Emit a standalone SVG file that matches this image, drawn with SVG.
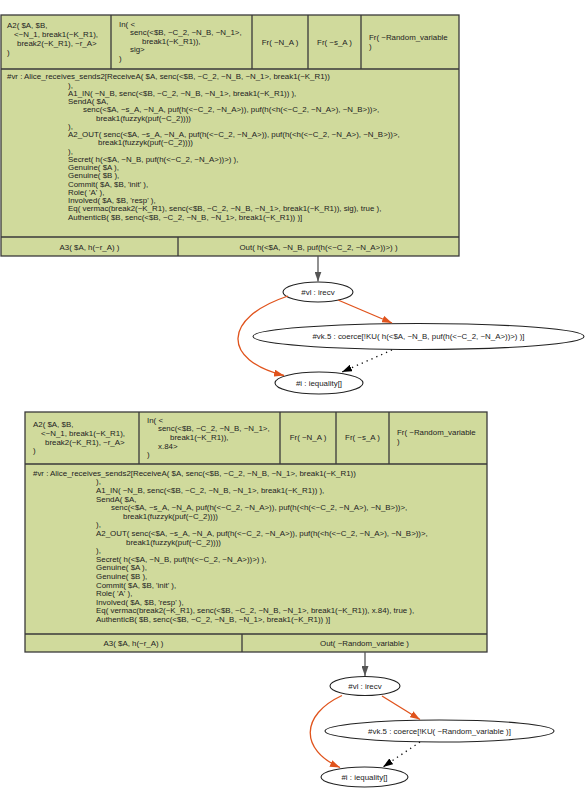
<svg xmlns="http://www.w3.org/2000/svg" width="585" height="793" viewBox="0 0 585 793">
<defs>
<style>
text{font-family:"Liberation Sans",Arial,sans-serif;font-size:7.9px;fill:#222}
.c{text-anchor:middle}
.box{fill:#d0da9c;stroke:#3a3a3a;stroke-width:1.3}
.sep{stroke:#3a3a3a;stroke-width:1.3;fill:none}
.ell{fill:#ffffff;stroke:#222;stroke-width:1.1}
.eg{stroke:#555;stroke-width:1.3;fill:none}
.eo{stroke:#e0531c;stroke-width:1.3;fill:none}
.ed{stroke:#111;stroke-width:1.3;fill:none;stroke-dasharray:1.3,4}
</style>
<marker id="ag" viewBox="0 0 10 7" refX="10" refY="3.5" markerWidth="10" markerHeight="7" markerUnits="userSpaceOnUse" orient="auto"><path d="M0,0L10,3.5L0,7z" fill="#555"/></marker>
<marker id="ao" viewBox="0 0 10 7" refX="10" refY="3.5" markerWidth="10" markerHeight="7" markerUnits="userSpaceOnUse" orient="auto"><path d="M0,0L10,3.5L0,7z" fill="#e0531c"/></marker>
<marker id="ab" viewBox="0 0 10 7" refX="10" refY="3.5" markerWidth="10" markerHeight="7" markerUnits="userSpaceOnUse" orient="auto"><path d="M0,0L10,3.5L0,7z" fill="#000"/></marker>
</defs>
<rect width="585" height="793" fill="#ffffff"/>

<g id="rule1">
<rect class="box" x="1" y="15" width="458" height="241"/>
<path class="sep" d="M1,69H459M1,237H459M111,15V69M252,15V69M308,15V69M361,15V69M178,237V256"/>
<text x="7" y="27.5">A2( $A, $B,</text>
<text x="14" y="36.8">&lt;~N_1, break1(~K_R1),</text>
<text x="17" y="46">break2(~K_R1), ~r_A&gt;</text>
<text x="7" y="55">)</text>
<text x="119" y="26.5">In( &lt;</text>
<text x="130" y="35.1">senc(&lt;$B, ~C_2, ~N_B, ~N_1&gt;,</text>
<text x="142" y="43.7">break1(~K_R1)),</text>
<text x="130" y="52.3">sig&gt;</text>
<text x="119" y="60.9">)</text>
<text class="c" x="280" y="44.7">Fr( ~N_A )</text>
<text class="c" x="334.5" y="44.7">Fr( ~s_A )</text>
<text x="369" y="39.7">Fr( ~Random_variable</text>
<text x="369" y="48.7">)</text>
<text x="7" y="79.4">#vr : Alice_receives_sends2[ReceiveA( $A, senc(&lt;$B, ~C_2, ~N_B, ~N_1&gt;, break1(~K_R1))</text>
<text x="68" y="87.6">),</text>
<text x="68" y="95.9">A1_IN( ~N_B, senc(&lt;$B, ~C_2, ~N_B, ~N_1&gt;, break1(~K_R1)) ),</text>
<text x="68" y="104.1">SendA( $A,</text>
<text x="83" y="112.4">senc(&lt;$A, ~s_A, ~N_A, puf(h(&lt;~C_2, ~N_A&gt;)), puf(h(&lt;h(&lt;~C_2, ~N_A&gt;), ~N_B&gt;))&gt;,</text>
<text x="96" y="120.6">break1(fuzzyk(puf(~C_2))))</text>
<text x="68" y="128.8">),</text>
<text x="68" y="137.1">A2_OUT( senc(&lt;$A, ~s_A, ~N_A, puf(h(&lt;~C_2, ~N_A&gt;)), puf(h(&lt;h(&lt;~C_2, ~N_A&gt;), ~N_B&gt;))&gt;,</text>
<text x="98" y="145.3">break1(fuzzyk(puf(~C_2))))</text>
<text x="68" y="153.6">),</text>
<text x="68" y="161.8">Secret( h(&lt;$A, ~N_B, puf(h(&lt;~C_2, ~N_A&gt;))&gt;) ),</text>
<text x="68" y="170">Genuine( $A ),</text>
<text x="68" y="178.3">Genuine( $B ),</text>
<text x="68" y="186.5">Commit( $A, $B, 'init' ),</text>
<text x="68" y="194.8">Role( 'A' ),</text>
<text x="68" y="203">Involved( $A, $B, 'resp' ),</text>
<text x="68" y="211.2">Eq( vermac(break2(~K_R1), senc(&lt;$B, ~C_2, ~N_B, ~N_1&gt;, break1(~K_R1)), sig), true ),</text>
<text x="68" y="219.5">AuthenticB( $B, senc(&lt;$B, ~C_2, ~N_B, ~N_1&gt;, break1(~K_R1)) )]</text>
<text class="c" x="89.5" y="249.5">A3( $A, h(~r_A) )</text>
<text class="c" x="318.5" y="249.5">Out( h(&lt;$A, ~N_B, puf(h(&lt;~C_2, ~N_A&gt;))&gt;) )</text>
</g>

<g id="irecv1">
<ellipse class="ell" cx="318" cy="292" rx="35" ry="10"/>
<text class="c" x="318" y="294.7">#vl : irecv</text>
</g>
<g id="coerce1">
<ellipse class="ell" cx="418.5" cy="336.5" rx="165.5" ry="13"/>
<text class="c" x="418.5" y="339.2">#vk.5 : coerce[!KU( h(&lt;$A, ~N_B, puf(h(&lt;~C_2, ~N_A&gt;))&gt;) )]</text>
</g>
<g id="equality1">
<ellipse class="ell" cx="319" cy="383" rx="44" ry="11"/>
<text class="c" x="319" y="385.7">#i : iequality[]</text>
</g>

<g id="rule2">
<rect class="box" x="25" y="412" width="462" height="240"/>
<path class="sep" d="M25,464H487M25,634H487M139,412V464M280,412V464M336,412V464M389,412V464M242,634V652"/>
<text x="33" y="426.7">A2( $A, $B,</text>
<text x="41" y="435.7">&lt;~N_1, break1(~K_R1),</text>
<text x="45" y="444.5">break2(~K_R1), ~r_A&gt;</text>
<text x="33" y="453">)</text>
<text x="147" y="422.7">In( &lt;</text>
<text x="158" y="431.3">senc(&lt;$B, ~C_2, ~N_B, ~N_1&gt;,</text>
<text x="170" y="440">break1(~K_R1)),</text>
<text x="158" y="448.7">x.84&gt;</text>
<text x="147" y="457.4">)</text>
<text class="c" x="308" y="439.7">Fr( ~N_A )</text>
<text class="c" x="362.5" y="439.7">Fr( ~s_A )</text>
<text x="397" y="434.7">Fr( ~Random_variable</text>
<text x="397" y="443.7">)</text>
<text x="33" y="475.7">#vr : Alice_receives_sends2[ReceiveA( $A, senc(&lt;$B, ~C_2, ~N_B, ~N_1&gt;, break1(~K_R1))</text>
<text x="96" y="484.3">),</text>
<text x="96" y="492.9">A1_IN( ~N_B, senc(&lt;$B, ~C_2, ~N_B, ~N_1&gt;, break1(~K_R1)) ),</text>
<text x="96" y="501.5">SendA( $A,</text>
<text x="111" y="510.1">senc(&lt;$A, ~s_A, ~N_A, puf(h(&lt;~C_2, ~N_A&gt;)), puf(h(&lt;h(&lt;~C_2, ~N_A&gt;), ~N_B&gt;))&gt;,</text>
<text x="123" y="518.7">break1(fuzzyk(puf(~C_2))))</text>
<text x="96" y="527.3">),</text>
<text x="96" y="535.9">A2_OUT( senc(&lt;$A, ~s_A, ~N_A, puf(h(&lt;~C_2, ~N_A&gt;)), puf(h(&lt;h(&lt;~C_2, ~N_A&gt;), ~N_B&gt;))&gt;,</text>
<text x="126" y="544.5">break1(fuzzyk(puf(~C_2))))</text>
<text x="96" y="553.1">),</text>
<text x="96" y="561.7">Secret( h(&lt;$A, ~N_B, puf(h(&lt;~C_2, ~N_A&gt;))&gt;) ),</text>
<text x="96" y="570.3">Genuine( $A ),</text>
<text x="96" y="578.9">Genuine( $B ),</text>
<text x="96" y="587.5">Commit( $A, $B, 'init' ),</text>
<text x="96" y="596.1">Role( 'A' ),</text>
<text x="96" y="604.7">Involved( $A, $B, 'resp' ),</text>
<text x="96" y="613.3">Eq( vermac(break2(~K_R1), senc(&lt;$B, ~C_2, ~N_B, ~N_1&gt;, break1(~K_R1)), x.84), true ),</text>
<text x="96" y="621.9">AuthenticB( $B, senc(&lt;$B, ~C_2, ~N_B, ~N_1&gt;, break1(~K_R1)) )]</text>
<text class="c" x="133.5" y="645.7">A3( $A, h(~r_A) )</text>
<text class="c" x="364.5" y="645.7">Out( ~Random_variable )</text>
</g>

<g id="irecv2">
<ellipse class="ell" cx="365" cy="686" rx="35" ry="9.5"/>
<text class="c" x="365" y="688.7">#vl : irecv</text>
</g>
<g id="coerce2">
<ellipse class="ell" cx="439.5" cy="731" rx="114.5" ry="11"/>
<text class="c" x="439.5" y="733.7">#vk.5 : coerce[!KU( ~Random_variable )]</text>
</g>
<g id="equality2">
<ellipse class="ell" cx="364.5" cy="777" rx="43.5" ry="10"/>
<text class="c" x="364.5" y="779.7">#i : iequality[]</text>
</g>

<g id="connectors">
<path class="eg" d="M318,256V281.5" marker-end="url(#ag)"/>
<path class="eo" d="M288,296C222,318 222,360 284,375.5" marker-end="url(#ao)"/>
<path class="eo" d="M338,300L392,323" marker-end="url(#ao)"/>
<path class="ed" d="M392,350L342,372" marker-end="url(#ab)"/>
<path class="eg" d="M365,652V676" marker-end="url(#ag)"/>
<path class="eo" d="M342,695.5C300,715 300,750 340,767.5" marker-end="url(#ao)"/>
<path class="eo" d="M382,696L420,719.5" marker-end="url(#ao)"/>
<path class="ed" d="M420,742L383,767" marker-end="url(#ab)"/>
</g>
</svg>
